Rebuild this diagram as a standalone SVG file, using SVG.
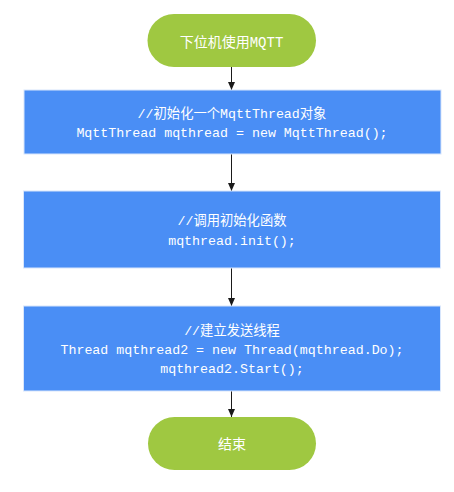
<svg xmlns="http://www.w3.org/2000/svg" width="454" height="492" viewBox="0 0 454 492">
<style>
.term{fill:#9fc841;}
.proc{fill:#4a8ef5;stroke:#d8e6fc;stroke-width:1;}
.t{fill:#ffffff;font-family:"Liberation Mono","Noto Sans CJK SC",monospace;font-size:13.3px;text-anchor:middle;}
.tt{fill:#ffffff;font-family:"Liberation Mono","Noto Sans CJK SC",monospace;font-size:14px;text-anchor:middle;}
.c{stroke:#1a1a1a;stroke-width:1;fill:none;marker-end:url(#ah);}
</style>
<defs>
<marker id="ah" viewBox="0 0 8 8" refX="8" refY="4" markerWidth="8" markerHeight="8" markerUnits="userSpaceOnUse" orient="auto">
<path d="M0,0.5 L8,4 L0,7.5 Z" fill="#1a1a1a"/>
</marker>
</defs>
<g id="connectors">
<line class="c" x1="231.5" y1="67" x2="231.5" y2="90"/>
<line class="c" x1="231.5" y1="154" x2="231.5" y2="191"/>
<line class="c" x1="231.5" y1="268" x2="231.5" y2="306"/>
<line class="c" x1="231.5" y1="391" x2="231.5" y2="417"/>
</g>
<g id="start">
<rect class="term" x="147.5" y="14" width="168.5" height="53" rx="26.5"/>
<text class="tt" x="231.5" y="47">下位机使用MQTT</text>
</g>
<g id="step1">
<rect class="proc" x="24" y="90" width="417" height="64"/>
<text class="t" x="232" y="118">//初始化一个MqttThread对象</text>
<text class="t" x="232" y="137">MqttThread mqthread = new MqttThread();</text>
</g>
<g id="step2">
<rect class="proc" x="23.5" y="191" width="417" height="77"/>
<text class="t" x="232" y="225">//调用初始化函数</text>
<text class="t" x="232" y="245">mqthread.init();</text>
</g>
<g id="step3">
<rect class="proc" x="23.5" y="306" width="417" height="85"/>
<text class="t" x="232" y="335">//建立发送线程</text>
<text class="t" x="232" y="354">Thread mqthread2 = new Thread(mqthread.Do);</text>
<text class="t" x="232" y="373">mqthread2.Start();</text>
</g>
<g id="end">
<rect class="term" x="148" y="417" width="168" height="53" rx="26.5"/>
<text class="tt" x="232" y="449">结束</text>
</g>
</svg>
